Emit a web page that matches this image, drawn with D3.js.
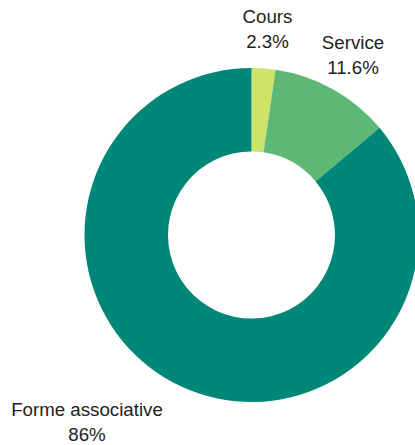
<!DOCTYPE html>
<html>
<head>
<meta charset="utf-8">
<script src="https://cdn.jsdelivr.net/npm/d3@7"></script>
<style>
  html, body { margin: 0; padding: 0; background: #fff; }
  svg { display: block; }
  text { font-family: "Liberation Sans", Arial, sans-serif; font-size: 18.7px; fill: #222; }
</style>
</head>
<body>
<svg id="chart" width="415" height="445"></svg>
<script>
// Répartition par type
const categories = ["Cours", "Service", "Forme associative"];
const values = [2.3, 11.6, 86];
const valueLabels = ["2.3%", "11.6%", "86%"];
const colors = ["#cde36a", "#5db874", "#008778"];

// Label anchor points (baseline of the first line)
const labelPos = [
  { x: 267.5, y: 22.5 },
  { x: 353, y: 48.5 },
  { x: 87, y: 415.5 }
];

const svg = d3.select("#chart");
const cx = 251.5, cy = 235, outerR = 167, innerR = 83.5;

const pie = d3.pie().sort(null).value(d => d.value);
const arc = d3.arc().innerRadius(innerR).outerRadius(outerR);

const data = categories.map((c, i) => ({ name: c, value: values[i], label: valueLabels[i], color: colors[i], pos: labelPos[i] }));

const g = svg.append("g").attr("transform", `translate(${cx},${cy})`);
g.selectAll("path")
  .data(pie(data))
  .join("path")
  .attr("d", arc)
  .attr("fill", d => d.data.color);

const labels = svg.append("g").selectAll("g")
  .data(data)
  .join("g")
  .attr("transform", d => `translate(${d.pos.x},${d.pos.y})`);

labels.append("text")
  .attr("text-anchor", "middle")
  .text(d => d.name);
labels.append("text")
  .attr("text-anchor", "middle")
  .attr("y", 25.5)
  .text(d => d.label);
</script>
</body>
</html>
